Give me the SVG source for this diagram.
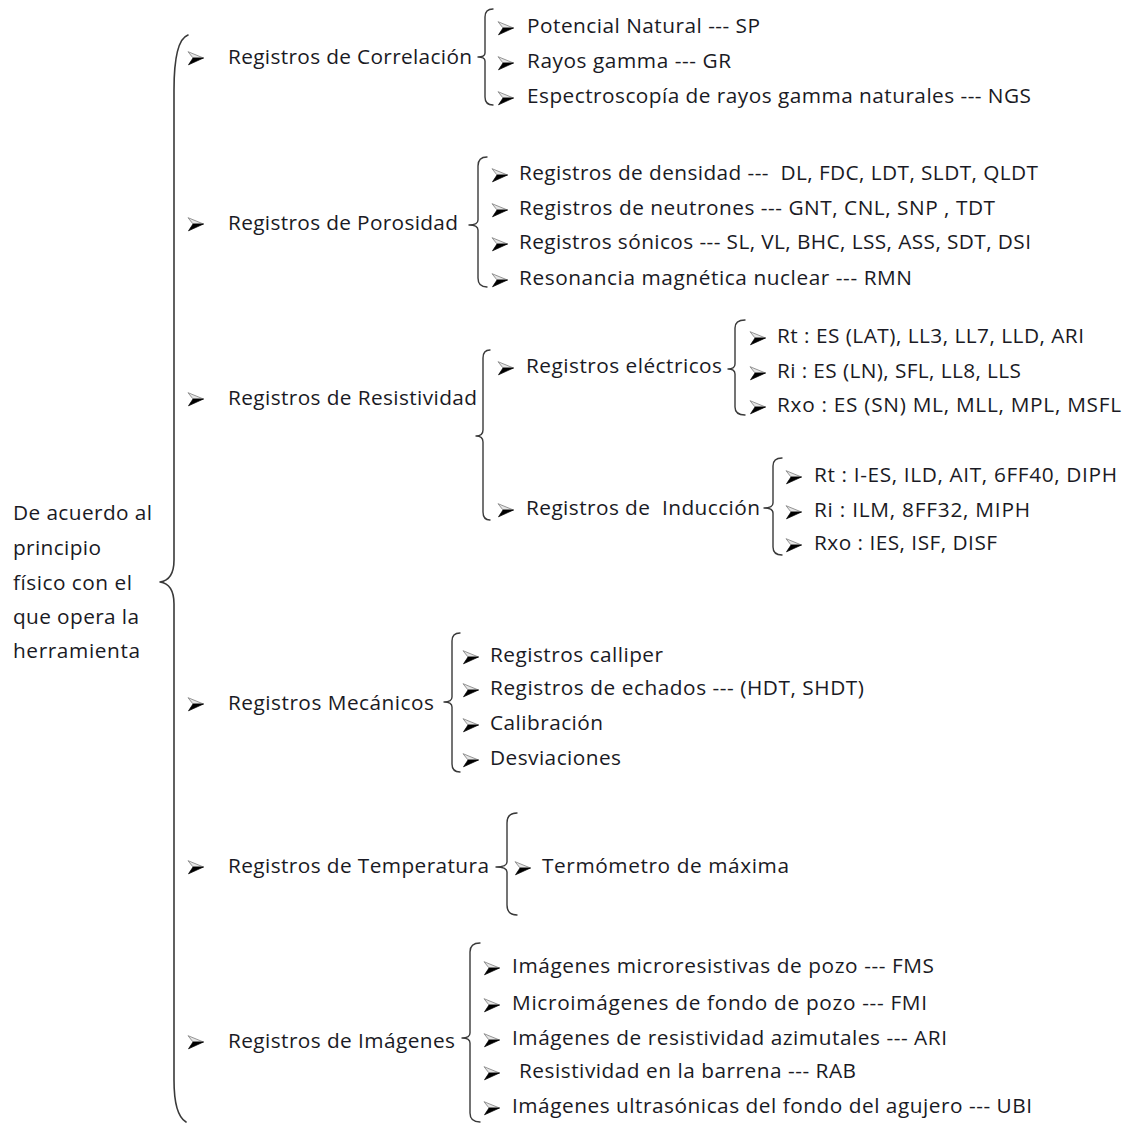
<svg xmlns="http://www.w3.org/2000/svg" xmlns:xlink="http://www.w3.org/1999/xlink" width="1125" height="1124" viewBox="0 0 1125 1124">
  <style>
    text { font-family: "Open Sans", Lato, sans-serif; font-size: 20.8px; fill: #1a1a24; white-space: pre; }
    .brace { fill: none; stroke: #3a3a3a; stroke-width: 1.4; stroke-linecap: round; stroke-linejoin: round; }
    .main { stroke-width: 1.6; }
  </style>
  <defs>
    <!-- arrowhead bullet, origin at its back, vertically centred -->
    <symbol id="bullet" overflow="visible">
      <polygon points="15.5,0 0,-6.3 5,0" fill="#e6e6e6" stroke="#8a8a8a" stroke-width="0.9" stroke-linejoin="round"/>
      <polygon points="15.5,0 5,0 0.5,6.8" fill="#000" stroke="#000" stroke-width="0.7" stroke-linejoin="round"/>
    </symbol>
  </defs>

  <!-- connectors: curly braces -->
  <g id="connectors">
    <path class="brace main" d="M188,35 Q174,40 174,90 L174,560 Q174,580 160,582 Q174,584 174,604 L174,1080 Q174,1115 186,1122"/>
    <path class="brace" d="M493,9 Q485,9 485,17 L485,53 Q485,57 478,57 Q485,57 485,61 L485,97 Q485,105 493,105"/>
    <path class="brace" d="M487,157 Q478,157 478,166 L478,220 Q478,225 469,225 Q478,225 478,230 L478,278 Q478,287 487,287"/>
    <path class="brace" d="M490,350 Q483,350 483,358 L483,430 Q483,436 476,436 Q483,436 483,442 L483,512 Q483,520 490,520"/>
    <path class="brace" d="M745,320 Q735,320 735,328 L735,364 Q735,369 728,369 Q735,369 735,374 L735,407 Q735,415 745,415"/>
    <path class="brace" d="M782,458 Q773,458 773,466 L773,503 Q773,508 764,508 Q773,508 773,513 L773,547 Q773,555 782,555"/>
    <path class="brace" d="M460,633 Q452,633 452,641 L452,697 Q452,702 444,702 Q452,702 452,707 L452,764 Q452,772 460,772"/>
    <path class="brace" d="M517,813 Q507,813 507,823 L507,862 Q507,867 496,867 Q507,867 507,872 L507,905 Q507,915 517,915"/>
    <path class="brace" d="M480,943 Q470,943 470,952 L470,1033 Q470,1038 462,1038 Q470,1038 470,1043 L470,1113 Q470,1122 480,1122"/>
  </g>

  <g id="root">
    <text x="13" y="520" textLength="139" lengthAdjust="spacing">De acuerdo al</text>
    <text x="13" y="555" textLength="88" lengthAdjust="spacing">principio</text>
    <text x="13" y="590" textLength="119" lengthAdjust="spacing">físico con el</text>
    <text x="13" y="624" textLength="126" lengthAdjust="spacing">que opera la</text>
    <text x="13" y="658" textLength="127" lengthAdjust="spacing">herramienta</text>
  </g>

  <g id="correlacion">
    <use href="#bullet" x="188" y="58"/>
    <text x="228" y="64" textLength="244" lengthAdjust="spacing">Registros de Correlación</text>
  </g>
  <g id="correlacion-items">
    <use href="#bullet" x="498" y="28"/>
    <text x="527" y="33" textLength="233" lengthAdjust="spacing">Potencial Natural --- SP</text>
    <use href="#bullet" x="498" y="63"/>
    <text x="527" y="68" textLength="204" lengthAdjust="spacing">Rayos gamma --- GR</text>
    <use href="#bullet" x="498" y="98"/>
    <text x="527" y="103" textLength="504" lengthAdjust="spacing">Espectroscopía de rayos gamma naturales --- NGS</text>
  </g>

  <g id="porosidad">
    <use href="#bullet" x="188" y="224"/>
    <text x="228" y="230" textLength="230" lengthAdjust="spacing">Registros de Porosidad</text>
  </g>
  <g id="porosidad-items">
    <use href="#bullet" x="492" y="175"/>
    <text x="519" y="180" textLength="519" lengthAdjust="spacing">Registros de densidad ---  DL, FDC, LDT, SLDT, QLDT</text>
    <use href="#bullet" x="492" y="210"/>
    <text x="519" y="215" textLength="476" lengthAdjust="spacing">Registros de neutrones --- GNT, CNL, SNP , TDT</text>
    <use href="#bullet" x="492" y="244"/>
    <text x="519" y="249" textLength="512" lengthAdjust="spacing">Registros sónicos --- SL, VL, BHC, LSS, ASS, SDT, DSI</text>
    <use href="#bullet" x="492" y="280"/>
    <text x="519" y="285" textLength="393" lengthAdjust="spacing">Resonancia magnética nuclear --- RMN</text>
  </g>

  <g id="resistividad">
    <use href="#bullet" x="188" y="399"/>
    <text x="228" y="405" textLength="249" lengthAdjust="spacing">Registros de Resistividad</text>
  </g>
  <g id="electricos">
    <use href="#bullet" x="498" y="368"/>
    <text x="526" y="373" textLength="196" lengthAdjust="spacing">Registros eléctricos</text>
  </g>
  <g id="electricos-items">
    <use href="#bullet" x="750" y="338"/>
    <text x="777" y="343" textLength="307" lengthAdjust="spacing">Rt : ES (LAT), LL3, LL7, LLD, ARI</text>
    <use href="#bullet" x="750" y="373"/>
    <text x="777" y="378" textLength="244" lengthAdjust="spacing">Ri : ES (LN), SFL, LL8, LLS</text>
    <use href="#bullet" x="750" y="407"/>
    <text x="777" y="412" textLength="344" lengthAdjust="spacing">Rxo : ES (SN) ML, MLL, MPL, MSFL</text>
  </g>
  <g id="induccion">
    <use href="#bullet" x="498" y="510"/>
    <text x="526" y="515" textLength="234" lengthAdjust="spacing">Registros de  Inducción</text>
  </g>
  <g id="induccion-items">
    <use href="#bullet" x="786" y="477"/>
    <text x="814" y="482" textLength="303" lengthAdjust="spacing">Rt : I-ES, ILD, AIT, 6FF40, DIPH</text>
    <use href="#bullet" x="786" y="512"/>
    <text x="814" y="517" textLength="216" lengthAdjust="spacing">Ri : ILM, 8FF32, MIPH</text>
    <use href="#bullet" x="786" y="545"/>
    <text x="814" y="550" textLength="183" lengthAdjust="spacing">Rxo : IES, ISF, DISF</text>
  </g>

  <g id="mecanicos">
    <use href="#bullet" x="188" y="704"/>
    <text x="228" y="710" textLength="206" lengthAdjust="spacing">Registros Mecánicos</text>
  </g>
  <g id="mecanicos-items">
    <use href="#bullet" x="463" y="657"/>
    <text x="490" y="662" textLength="173" lengthAdjust="spacing">Registros calliper</text>
    <use href="#bullet" x="463" y="690"/>
    <text x="490" y="695" textLength="374" lengthAdjust="spacing">Registros de echados --- (HDT, SHDT)</text>
    <use href="#bullet" x="463" y="725"/>
    <text x="490" y="730" textLength="113" lengthAdjust="spacing">Calibración</text>
    <use href="#bullet" x="463" y="760"/>
    <text x="490" y="765" textLength="131" lengthAdjust="spacing">Desviaciones</text>
  </g>

  <g id="temperatura">
    <use href="#bullet" x="188" y="867"/>
    <text x="228" y="873" textLength="261" lengthAdjust="spacing">Registros de Temperatura</text>
  </g>
  <g id="temperatura-items">
    <use href="#bullet" x="515" y="868"/>
    <text x="542" y="873" textLength="247" lengthAdjust="spacing">Termómetro de máxima</text>
  </g>

  <g id="imagenes">
    <use href="#bullet" x="188" y="1042"/>
    <text x="228" y="1048" textLength="227" lengthAdjust="spacing">Registros de Imágenes</text>
  </g>
  <g id="imagenes-items">
    <use href="#bullet" x="484" y="968"/>
    <text x="512" y="973" textLength="422" lengthAdjust="spacing">Imágenes microresistivas de pozo --- FMS</text>
    <use href="#bullet" x="484" y="1005"/>
    <text x="512" y="1010" textLength="415" lengthAdjust="spacing">Microimágenes de fondo de pozo --- FMI</text>
    <use href="#bullet" x="484" y="1040"/>
    <text x="512" y="1045" textLength="435" lengthAdjust="spacing">Imágenes de resistividad azimutales --- ARI</text>
    <use href="#bullet" x="484" y="1073"/>
    <text x="519" y="1078" textLength="337" lengthAdjust="spacing">Resistividad en la barrena --- RAB</text>
    <use href="#bullet" x="484" y="1108"/>
    <text x="512" y="1113" textLength="520" lengthAdjust="spacing">Imágenes ultrasónicas del fondo del agujero --- UBI</text>
  </g>
</svg>
